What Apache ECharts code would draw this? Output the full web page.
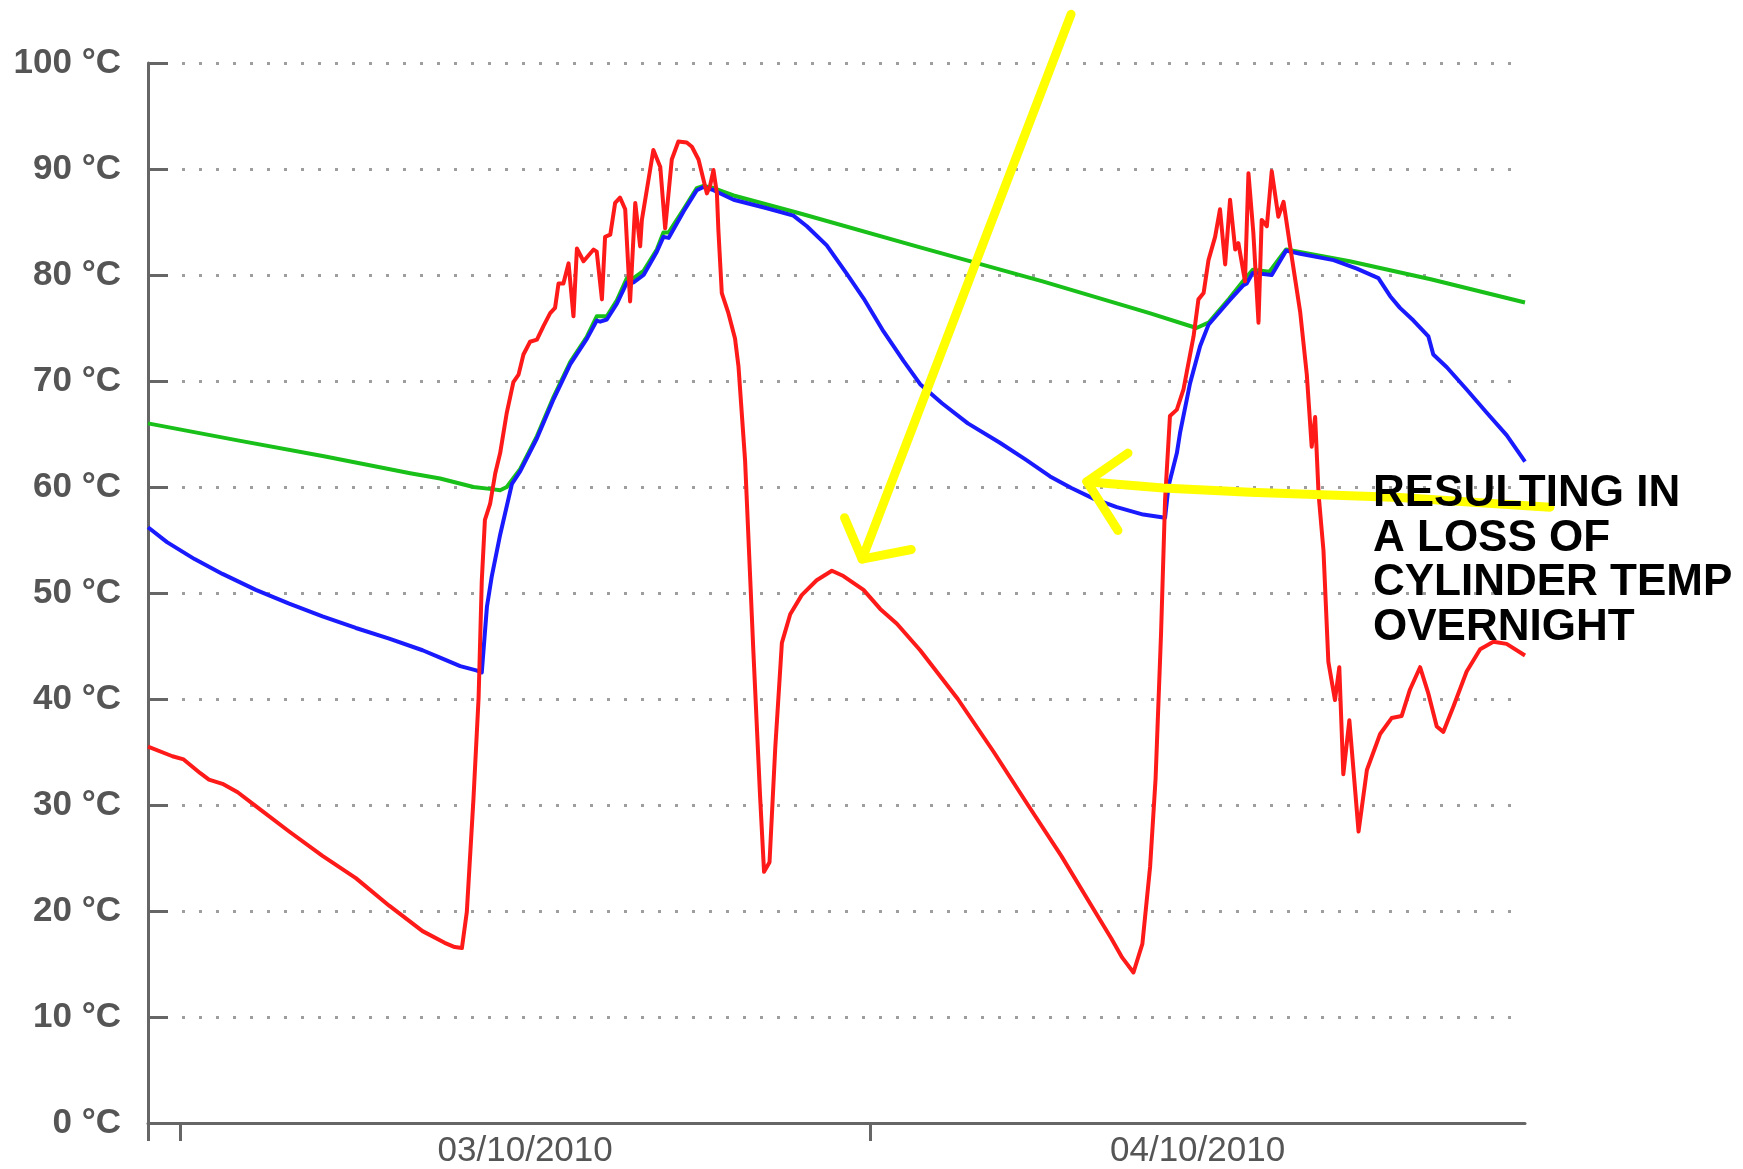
<!DOCTYPE html>
<html><head><meta charset="utf-8">
<script src="https://cdn.jsdelivr.net/npm/echarts@6.0.0/dist/echarts.min.js"></script>
<style>html,body{margin:0;padding:0;background:#fff}#c{width:1743px;height:1169px}</style>
</head><body><div id="c"></div><script>
// x values are hours since 00:00 on 03/10/2010
const xMin = -1.12, xMax = 46.78;
const dayTickHours = [-1.12, 0, 24];
const dayLabelHours = [12, 35.39];
const dayLabels = ['03/10/2010', '04/10/2010'];
const yTicks = [0,10,20,30,40,50,60,70,80,90,100];

const redHours = [-1.12,-0.27,0.12,0.70,1.0,1.47,2.0,2.63,3.79,4.95,6.11,7.27,8.43,9.2,9.55,9.80,9.97,10.2,10.38,10.49,10.6,10.78,10.96,11.13,11.36,11.59,11.77,11.94,12.17,12.41,12.64,12.87,13.04,13.16,13.33,13.51,13.68,13.8,14.03,14.38,14.49,14.67,14.78,14.96,15.13,15.3,15.48,15.65,15.83,16.0,16.06,16.23,16.46,16.7,16.87,17.1,17.33,17.62,17.8,18.03,18.32,18.43,18.55,18.67,18.72,18.84,19.07,19.3,19.42,19.65,19.94,20.17,20.31,20.5,20.7,20.93,21.22,21.62,22.14,22.67,23.07,23.77,24.35,24.93,25.74,27.05,28.3,29.49,30.65,31.81,32.39,32.77,33.16,33.47,33.74,33.93,34.12,34.26,34.43,34.67,34.9,35.25,35.42,35.6,35.77,36.0,36.17,36.35,36.52,36.7,36.81,37.04,37.16,37.33,37.51,37.62,37.8,37.97,38.2,38.38,38.61,38.96,39.19,39.36,39.48,39.6,39.77,39.94,40.17,40.32,40.46,40.67,40.99,41.28,41.74,42.14,42.49,42.78,43.13,43.42,43.71,43.94,44.29,44.75,45.22,45.68,46.14,46.78];
const redTemps = [35.5,34.6,34.3,33.0,32.4,32.0,31.2,29.9,27.5,25.2,23.1,20.5,18.1,17.0,16.6,16.5,19.9,30.5,40.1,51.1,56.9,58.4,61.3,63.2,67.0,69.9,70.6,72.5,73.7,73.9,75.2,76.4,76.9,79.2,79.2,81.1,76.1,82.5,81.3,82.4,82.2,77.7,83.6,83.8,86.8,87.3,86.2,77.5,86.8,82.7,85.2,88.0,91.8,90.2,84.4,90.9,92.6,92.5,92.1,90.9,87.7,88.4,89.9,87.7,84.3,78.3,76.4,74.0,71.4,62.5,44.4,30.9,23.7,24.6,35.4,45.3,48.0,49.8,51.2,52.1,51.6,50.3,48.5,47.1,44.6,40.0,35.0,30.0,25.2,20.0,17.4,15.6,14.2,16.9,24.2,32.5,46.2,58.8,66.7,67.3,69.2,74.2,77.7,78.3,81.4,83.6,86.2,81.0,87.1,82.4,83.0,79.4,89.6,84.0,75.5,85.2,84.6,89.8,85.5,86.9,82.7,76.5,70.6,63.8,66.6,59.3,54.0,43.5,39.9,43.0,32.9,38.0,27.5,33.3,36.7,38.2,38.4,40.9,43.0,40.5,37.4,36.9,39.3,42.6,44.7,45.4,45.2,44.1];

const blueHours = [-1.12,-0.46,0.5,1.47,2.63,3.79,4.95,6.11,7.27,8.43,9.04,9.74,10.3,10.49,10.67,10.84,11.13,11.54,11.83,12.41,12.99,13.57,14.15,14.49,14.61,14.84,15.19,15.54,15.77,16.12,16.58,16.81,16.99,17.51,17.97,18.2,18.55,19.25,20.41,21.33,21.8,22.49,23.19,23.77,24.46,25.16,25.74,26.5,27.4,28.5,29.4,30.26,31.0,31.77,32.58,33.5,34.26,34.38,34.67,34.78,35.13,35.48,35.77,36.5,36.97,37.1,37.31,37.97,38.47,38.96,40.12,40.93,41.68,42.09,42.43,42.9,43.42,43.59,44.06,44.75,45.45,46.14,46.78];
const blueTemps = [56.2,54.8,53.2,51.8,50.3,49.0,47.8,46.7,45.7,44.6,43.9,43.1,42.7,42.5,48.7,51.6,55.5,60.3,61.5,64.6,68.3,71.6,74.0,75.7,75.6,75.8,77.3,79.3,79.3,80.0,82.2,83.6,83.5,86.0,88.0,88.3,88.0,87.1,86.3,85.6,84.6,82.8,80.1,77.8,74.7,71.9,69.7,67.9,66.0,64.2,62.6,61.0,59.9,58.9,58.1,57.4,57.1,60.1,63.2,65.1,69.8,73.3,75.3,77.6,79.0,79.2,80.2,80.0,82.3,82.0,81.4,80.6,79.7,78.0,76.9,75.7,74.2,72.5,71.3,69.2,67.0,64.9,62.4];

const greenHours = [-1.12,2.0,5.0,8.0,9.04,10.2,10.84,11.13,11.36,11.83,12.41,12.99,13.57,14.15,14.49,14.84,15.19,15.54,15.77,16.12,16.58,16.81,16.99,17.51,17.97,18.2,18.55,19.25,21.57,25.74,30.0,33.72,35.35,35.77,36.5,36.97,37.31,37.89,38.47,40.68,43.5,46.78];
const greenTemps = [66.0,64.4,62.9,61.3,60.8,60.0,59.8,59.7,60.0,61.7,64.8,68.5,71.8,74.2,76.1,76.1,77.6,79.7,79.7,80.4,82.4,84.0,84.0,86.2,88.2,88.4,88.2,87.5,85.8,82.6,79.4,76.4,75.0,75.5,77.8,79.4,80.5,80.3,82.4,81.3,79.6,77.4];

// hand-drawn annotation arrows, in chart units (hours, °C)
const arrow1ShaftHours = [30.99, 23.72];
const arrow1ShaftTemps = [104.6, 53.2];
const arrow1HeadHours = [23.11, 23.72, 25.43];
const arrow1HeadTemps = [57.1, 53.2, 54.1];
const arrow2ShaftHours = [47.65, 42.43, 37.22, 34.19, 31.54];
const arrow2ShaftTemps = [58.1, 59.0, 59.5, 59.9, 60.5];
const arrow2HeadHours = [32.97, 31.54, 32.62];
const arrow2HeadTemps = [63.2, 60.5, 55.9];
const noteLines = ['RESULTING IN', 'A LOSS OF', 'CYLINDER TEMP', 'OVERNIGHT'];

const zip = (a, b) => a.map((v, i) => [v, b[i]]);
const lineSeries = (name, h, t, color) => ({
  name, type: 'line', data: zip(h, t), showSymbol: false, symbol: 'none',
  lineStyle: {color, width: 4, join: 'round'}, itemStyle: {color}, animation: false
});

const chart = echarts.init(document.getElementById('c'), null, {renderer: 'canvas'});
chart.setOption({
  animation: false,
  backgroundColor: '#ffffff',
  grid: {left: 148, right: 218, top: 63, bottom: 46},
  xAxis: {
    type: 'value', min: xMin, max: xMax,
    axisLine: {show: true, onZero: false, lineStyle: {color: '#666', width: 3}},
    axisTick: {show: true, customValues: dayTickHours, length: 18, lineStyle: {color: '#666', width: 3}},
    axisLabel: {
      customValues: dayLabelHours,
      formatter: v => {
        let best = 0;
        dayLabelHours.forEach((d, i) => { if (Math.abs(d - v) < Math.abs(dayLabelHours[best] - v)) best = i; });
        return dayLabels[best];
      },
      fontSize: 35, color: '#555', margin: 11, fontFamily: 'Liberation Sans'
    },
    splitLine: {show: false}
  },
  yAxis: {
    type: 'value', min: yTicks[0], max: yTicks[yTicks.length - 1], interval: 10,
    axisLine: {show: true, onZero: false, lineStyle: {color: '#666', width: 3}},
    axisTick: {show: true, inside: true, length: 20, lineStyle: {color: '#666', width: 3}},
    axisLabel: {formatter: '{value} °C', fontSize: 35, fontWeight: 'bold', color: '#555', margin: 27, fontFamily: 'Liberation Sans'},
    splitLine: {show: true, lineStyle: {color: '#9e9e9e', width: 3, type: [3, 14]}}
  },
  series: [
    lineSeries('Green', greenHours, greenTemps, '#19c019'),
    lineSeries('Blue', blueHours, blueTemps, '#1a1aff'),
    lineSeries('Red', redHours, redTemps, '#ff1a1a')
  ]
});

// annotations: map chart units to pixels through the chart's own axes
const toPx = (h, t) => zip(h, t).map(p => chart.convertToPixel({xAxisIndex: 0, yAxisIndex: 0}, p));
const arrowStyle = {stroke: '#ffff00', lineWidth: 9, lineCap: 'round', lineJoin: 'round', fill: null};
const arrow = (h, t) => ({type: 'polyline', z: 50, silent: true, shape: {points: toPx(h, t)}, style: arrowStyle});
chart.setOption({
  graphic: [
    arrow(arrow1ShaftHours, arrow1ShaftTemps),
    arrow(arrow1HeadHours, arrow1HeadTemps),
    arrow(arrow2ShaftHours, arrow2ShaftTemps),
    arrow(arrow2HeadHours, arrow2HeadTemps),
    {
      type: 'text', left: 1373, top: 472, z: 100,
      style: {text: noteLines.join('\n'), font: 'bold 44px "Liberation Sans"', fill: '#000', lineHeight: 44.5}
    }
  ]
});
</script></body></html>
